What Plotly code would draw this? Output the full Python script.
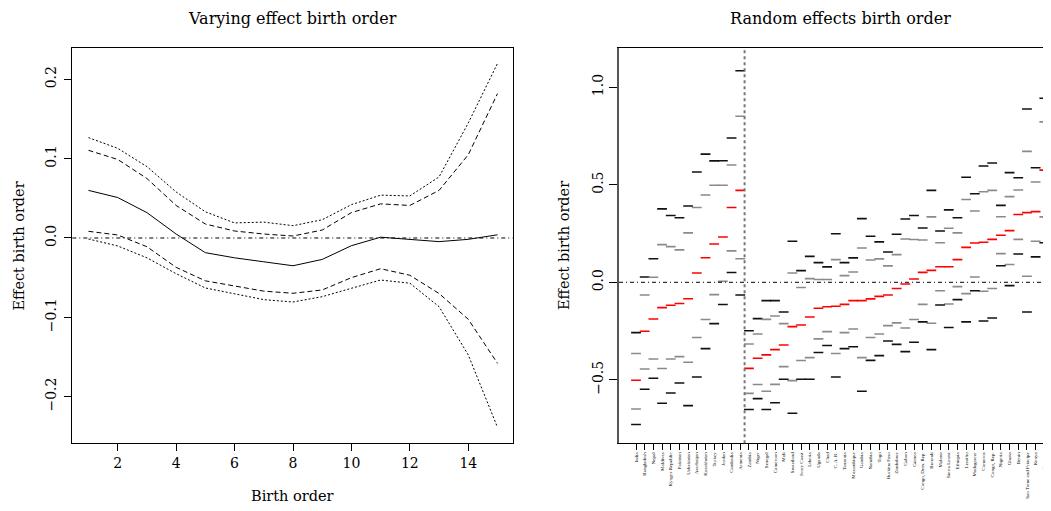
import plotly.graph_objects as go

# ---------------- Left panel data ----------------
birth_order = list(range(1, 16))
effect_mean = [0.060, 0.051, 0.032, 0.005, -0.0185, -0.025, -0.030, -0.035,
               -0.027, -0.0097, 0.001, -0.002, -0.0046, -0.0017, 0.004]
inner_upper = [0.1105, 0.099, 0.075, 0.041, 0.0176, 0.0088, 0.005, 0.0025,
               0.010, 0.032, 0.043, 0.041, 0.060, 0.105, 0.182]
outer_upper = [0.1265, 0.113, 0.090, 0.058, 0.033, 0.019, 0.020, 0.0155,
               0.023, 0.042, 0.054, 0.053, 0.077, 0.145, 0.220]
inner_lower = [0.0084, 0.0038, -0.011, -0.037, -0.054, -0.0605, -0.067, -0.0697,
               -0.0655, -0.050, -0.0387, -0.047, -0.070, -0.1025, -0.158]
outer_lower = [-0.0013, -0.010, -0.025, -0.045, -0.063, -0.0706, -0.0777, -0.0807,
               -0.074, -0.0634, -0.053, -0.057, -0.0866, -0.1475, -0.2387]
left_xticks = [2, 4, 6, 8, 10, 12, 14]
left_yticks = [-0.2, -0.1, 0.0, 0.1, 0.2]
left_yticktext = ["\u22120.2", "\u22120.1", "0.0", "0.1", "0.2"]

# ---------------- Right panel data ----------------
countries = ["India", "Bangladesh", "Nepal", "Maldives", "Kyrgyz Republic", "Pakistan",
             "Uzbekistan", "Azerbaijan", "Kazakhstan", "Turkey", "Jordan", "Cambodia",
             "Armenia", "Zambia", "Niger", "Senegal", "Cameroon", "Mali", "Swaziland",
             "Ivory Coast", "Liberia", "Uganda", "Chad", "C. A. R.", "Tanzania",
             "Mozambique", "Gambia", "Namibia", "Togo", "Burkina Faso", "Zimbabwe",
             "Gabon", "Guinea", "Congo, Dem. Rep.", "Burundi", "Malawi", "Sierra Leone",
             "Ethiopia", "Lesotho", "Madagascar", "Comoros", "Congo, Rep.", "Nigeria",
             "Ghana", "Benin", "Sao Tome and Principe", "Kenya", "Rwanda"]
re_upper_outer = [-0.258, 0.027, 0.121, 0.376, 0.342, 0.331, 0.391, 0.565, 0.657, 0.622,
                  0.623, 0.739, 1.084, -0.248, -0.186, -0.094, -0.094, -0.152, 0.210, 0.060,
                  0.133, 0.101, 0.079, 0.249, 0.101, 0.125, 0.326, 0.236, 0.207, 0.155,
                  0.246, 0.324, 0.342, 0.278, 0.471, 0.263, 0.371, 0.331, 0.538, 0.454,
                  0.596, 0.611, 0.394, 0.562, 0.536, 0.888, 0.587, 0.943]
re_upper_inner = [-0.365, -0.065, 0.026, 0.193, 0.183, 0.166, 0.253, 0.383, 0.447, 0.497,
                  0.497, 0.601, 0.851, -0.316, -0.265, -0.190, -0.173, -0.212, 0.048, -0.027,
                  0.019, 0.014, 0.014, 0.116, 0.034, 0.053, 0.176, 0.114, 0.120, 0.084,
                  0.142, 0.222, 0.219, 0.217, 0.335, 0.203, 0.277, 0.253, 0.424, 0.365,
                  0.464, 0.471, 0.336, 0.439, 0.473, 0.671, 0.514, 0.822]
re_median = [-0.502, -0.251, -0.188, -0.130, -0.118, -0.109, -0.084, 0.048, 0.126, 0.196,
             0.232, 0.383, 0.471, -0.441, -0.389, -0.372, -0.345, -0.321, -0.227, -0.219,
             -0.178, -0.133, -0.125, -0.123, -0.113, -0.094, -0.094, -0.085, -0.072, -0.065,
             -0.032, -0.009, 0.017, 0.051, 0.061, 0.080, 0.080, 0.116, 0.179, 0.201,
             0.205, 0.220, 0.241, 0.265, 0.347, 0.357, 0.362, 0.575]
re_lower_inner = [-0.649, -0.444, -0.393, -0.442, -0.393, -0.381, -0.410, -0.283, -0.191, -0.063,
                  0.005, 0.161, 0.121, -0.569, -0.524, -0.558, -0.523, -0.432, -0.504, -0.401,
                  -0.386, -0.290, -0.253, -0.365, -0.258, -0.239, -0.386, -0.283, -0.265, -0.222,
                  -0.208, -0.234, -0.191, -0.113, -0.210, -0.043, -0.111, -0.022, -0.058, 0.027,
                  -0.046, -0.032, 0.147, 0.091, 0.220, 0.031, 0.210, 0.335]
re_lower_outer = [-0.729, -0.548, -0.492, -0.620, -0.567, -0.516, -0.632, -0.485, -0.340, -0.212,
                  -0.114, 0.050, -0.065, -0.652, -0.596, -0.652, -0.617, -0.497, -0.671, -0.497,
                  -0.497, -0.360, -0.324, -0.485, -0.340, -0.330, -0.558, -0.400, -0.376, -0.301,
                  -0.318, -0.355, -0.307, -0.203, -0.345, -0.116, -0.232, -0.089, -0.203, -0.043,
                  -0.198, -0.183, 0.085, -0.017, 0.145, -0.152, 0.130, 0.203]
right_yticks = [-0.5, 0.0, 0.5, 1.0]
right_yticktext = ["\u22120.5", "0.0", "0.5", "1.0"]
group_split = 12.5  # between Armenia and Zambia

# The page body has a default 8px margin; size the figure to the remaining space
OFF = 8
WIN_W, WIN_H = 1051, 511
W, H = WIN_W - OFF, WIN_H - OFF
FONT = "DejaVu Serif"

def px_x(px):
    return (px - OFF) / W

def px_y(py):
    return 1 - (py - OFF) / H

fig = go.Figure()

# Left panel lines
fig.add_trace(go.Scatter(x=birth_order, y=effect_mean, mode="lines",
                         line=dict(color="black", width=1), xaxis="x", yaxis="y"))
for arr in (inner_upper, inner_lower):
    fig.add_trace(go.Scatter(x=birth_order, y=arr, mode="lines",
                             line=dict(color="black", width=1, dash="5px,3px"),
                             xaxis="x", yaxis="y"))
for arr in (outer_upper, outer_lower):
    fig.add_trace(go.Scatter(x=birth_order, y=arr, mode="lines",
                             line=dict(color="black", width=1, dash="2px,2px"),
                             xaxis="x", yaxis="y"))

# Right panel marks
series = [(re_upper_outer, "#111111"), (re_upper_inner, "#8a8a8a"), (re_median, "#ff0000"),
          (re_lower_inner, "#8a8a8a"), (re_lower_outer, "#111111")]
for vals, col in series:
    fig.add_trace(go.Scatter(x=countries, y=vals, mode="markers",
                             marker=dict(symbol="line-ew", size=7,
                                         line=dict(color=col, width=1.6)),
                             xaxis="x2", yaxis="y2"))

lx0, lx1 = px_x(72.3), px_x(512.7)
rx0 = px_x(619)
y0, y1 = px_y(443.3), px_y(48.3)

fig.update_layout(
    template="none",
    width=W, height=H, showlegend=False,
    margin=dict(l=0, r=0, t=0, b=0, pad=0),
    paper_bgcolor="white", plot_bgcolor="white",
    font=dict(family=FONT, color="black", size=14),
    xaxis=dict(domain=[lx0, lx1], anchor="y", range=[0.446, 15.52], automargin=False,
               tickvals=left_xticks, ticks="outside", ticklen=7, tickcolor="black",
               showline=True, linecolor="black", linewidth=1, mirror=True,
               showgrid=False, zeroline=False, tickfont=dict(size=14)),
    yaxis=dict(domain=[y0, y1], anchor="x", range=[-0.2588, 0.2391], automargin=False,
               tickvals=left_yticks, ticktext=left_yticktext, tickangle=-90,
               ticks="outside", ticklen=7, tickcolor="black", ticklabelstandoff=3,
               showline=True, linecolor="black", linewidth=1, mirror=True,
               showgrid=False, zeroline=False, tickfont=dict(size=14)),
    xaxis2=dict(domain=[rx0, 1.0], anchor="y2", type="category", automargin=False,
                categoryorder="array", categoryarray=countries,
                range=[-1.957, 47.77], tickangle=-90,
                ticks="outside", ticklen=6, tickcolor="black",
                showline=True, linecolor="black", linewidth=1, mirror=True,
                showgrid=False, zeroline=False,
                tickfont=dict(size=5, family="Liberation Serif")),
    yaxis2=dict(domain=[y0, y1], anchor="x2", range=[-0.825, 1.199], automargin=False,
                tickvals=right_yticks, ticktext=right_yticktext, tickangle=-90,
                ticks="outside", ticklen=8, tickcolor="black",
                showline=True, linecolor="#555555", linewidth=2,
                showgrid=False, zeroline=False, tickfont=dict(size=14)),
)

# reference lines
fig.add_shape(type="line", xref="x domain", yref="y", x0=0, x1=1, y0=0, y1=0,
              line=dict(color="black", width=1, dash="4px,3px,1px,3px"))
fig.add_shape(type="line", xref="x2 domain", yref="y2", x0=0, x1=1, y0=0, y1=0,
              line=dict(color="black", width=1, dash="4px,3px,1px,3px"))
fig.add_shape(type="line", xref="x2", yref="y2 domain", x0=group_split, x1=group_split,
              y0=0, y1=1, line=dict(color="#777777", width=2, dash="3px,3px"))

def ann(text, px, py, size, angle=0):
    fig.add_annotation(text=text, xref="paper", yref="paper", x=px_x(px), y=px_y(py),
                       xanchor="center", yanchor="middle", showarrow=False,
                       textangle=angle, font=dict(size=size, family=FONT, color="black"))

ann("Varying effect birth order", 292.5, 18, 16)
ann("Random effects birth order", 840, 18, 16)
ann("Effect birth order", 18.5, 246, 14.5, -90)
ann("Effect birth order", 564, 246, 14.5, -90)
ann("Birth order", 292.5, 496, 14.5)

fig.write_html("out.html")
